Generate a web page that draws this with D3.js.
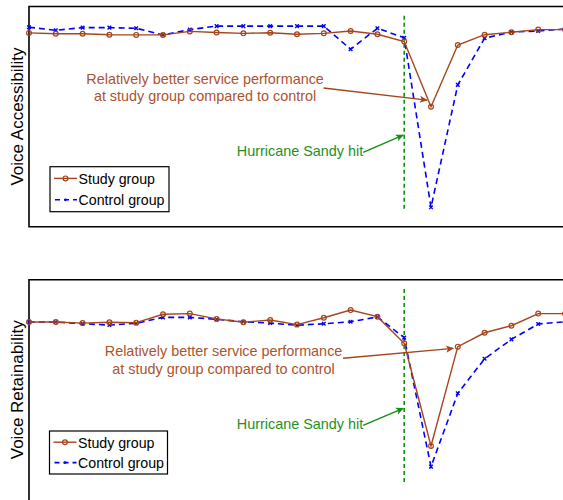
<!DOCTYPE html>
<html>
<head>
<meta charset="utf-8">
<script src="https://cdn.jsdelivr.net/npm/d3@7"></script>
<style>
  html, body { margin: 0; padding: 0; background: #fff; overflow: hidden; }
  svg { display: block; font-family: "Liberation Sans", Arial, Helvetica, sans-serif; }
</style>
</head>
<body>
<svg id="chart" width="563" height="500"></svg>
<script>
// ---------------- data ----------------
const days = [1,2,3,4,5,6,7,8,9,10,11,12,13,14,15,16,17,18,19,20,21];
const sandyDay = 15;

const accessStudy   = [88.0,87.6,87.6,87.2,87.1,87.1,88.7,88.2,87.8,88.1,87.4,87.8,88.9,87.4,84.1,54.5,82.5,87.2,88.3,89.5,89.5];
const accessControl = [90.6,89.2,90.4,90.4,90.1,87.1,89.5,91.1,91.1,91.1,91.1,91.1,80.6,90.1,85.8,8.8,64.4,85.6,88.4,88.9,89.8];

const retainStudy   = [80.8,80.8,80.3,80.7,80.5,84.3,84.6,82.2,80.7,81.7,79.6,82.7,86.2,83.2,71.1,24.5,69.6,75.9,79.1,84.6,84.6];
const retainControl = [80.8,80.8,80.0,79.4,80.2,82.9,82.9,82.0,80.9,80.3,79.3,80.0,80.9,83.1,73.7,15.1,48.4,64.1,72.9,79.9,80.9];

const yLabels = ["Voice Accessibility", "Voice Retainability"];
const seriesNames = ["Study group", "Control group"];
const noteLines = ["Relatively better service performance", "at study group compared to control"];
const sandyText = "Hurricane Sandy hit";

// ---------------- style ----------------
const C_STUDY = "#a4451b";
const C_STUDY_TXT = "#ac5330";
const C_CTRL = "#0000ff";
const C_GREEN = "#119011";
const C_GREEN_TXT = "#1f8f1f";
const FS = 14.4;

const svg = d3.select("#chart");
const defs = svg.append("defs");
function marker(id, color) {
  defs.append("marker").attr("id", id)
    .attr("viewBox", "0 0 10 10").attr("refX", 9).attr("refY", 5)
    .attr("markerWidth", 10).attr("markerHeight", 8)
    .attr("markerUnits", "userSpaceOnUse")
    .attr("orient", "auto")
    .append("path").attr("d", "M0,0.5 L10,5 L0,9.5 L2.5,5 Z").attr("fill", color);
}
marker("arrBrown", C_STUDY);
marker("arrGreen", C_GREEN);

const x = d3.scaleLinear().domain([1, 21]).range([29, 565]);

const panels = [
  { top: 6.5, h: 220.2, frameBottom: 226.7, study: accessStudy, ctrl: accessControl, label: yLabels[0],
    note: { cx: 7.57, y1: 64.7, y2: 57.1, from: [11.99, 63.0], to: [15.85, 57.5] },
    legend: { x: 50, y: 160.2, w: 119, h: 45 } },
  { top: 279.7, h: 220.2, frameBottom: 506, study: retainStudy, ctrl: retainControl, label: yLabels[1],
    note: { cx: 8.26, y1: 65.3, y2: 57.4, from: [12.72, 64.3], to: [16.83, 68.8] },
    legend: { x: 49.5, y: 151.3, w: 118, h: 43 } }
];

panels.forEach(p => {
  const y = d3.scaleLinear().domain([0, 100]).range([p.top + p.h, p.top]);
  const g = svg.append("g");

  // frame (right side is beyond the visible area)
  g.append("path")
    .attr("d", `M600,${p.top} H${x(1)} V${p.frameBottom} H600`)
    .attr("fill", "none").attr("stroke", "#000").attr("stroke-width", 1.6);

  // y label
  g.append("text")
    .attr("transform", `translate(23,${p.top + p.h / 2}) rotate(-90)`)
    .attr("text-anchor", "middle").attr("font-size", 17).attr("fill", "#000")
    .text(p.label);

  // Sandy line
  g.append("line")
    .attr("x1", x(sandyDay)).attr("x2", x(sandyDay))
    .attr("y1", y(95.8)).attr("y2", y(7.3))
    .attr("stroke", C_GREEN).attr("stroke-width", 1.6).attr("stroke-dasharray", "4,3");

  const line = d3.line().x((d, i) => x(days[i])).y(d => y(d));

  // control series
  g.append("path").datum(p.ctrl).attr("d", line)
    .attr("fill", "none").attr("stroke", C_CTRL).attr("stroke-width", 1.6)
    .attr("stroke-dasharray", "6,4");
  g.selectAll(".cm").data(p.ctrl).enter().append("path")
    .attr("d", (d, i) => { const cx = x(days[i]), cy = y(d), s = 1.8;
      return `M${cx - s},${cy - s}L${cx + s},${cy + s}M${cx - s},${cy + s}L${cx + s},${cy - s}`; })
    .attr("stroke", C_CTRL).attr("stroke-width", 1.4);

  // study series
  g.append("path").datum(p.study).attr("d", line)
    .attr("fill", "none").attr("stroke", C_STUDY).attr("stroke-width", 1.4);
  g.selectAll(".sm").data(p.study).enter().append("circle")
    .attr("cx", (d, i) => x(days[i])).attr("cy", d => y(d)).attr("r", 2.4)
    .attr("fill", "none").attr("stroke", C_STUDY).attr("stroke-width", 1.2);

  // brown annotation
  const n = p.note;
  g.append("text").attr("x", x(n.cx)).attr("y", y(n.y1))
    .attr("text-anchor", "middle").attr("font-size", FS).attr("fill", C_STUDY_TXT).text(noteLines[0]);
  g.append("text").attr("x", x(n.cx)).attr("y", y(n.y2))
    .attr("text-anchor", "middle").attr("font-size", FS).attr("fill", C_STUDY_TXT).text(noteLines[1]);
  g.append("line")
    .attr("x1", x(n.from[0])).attr("y1", y(n.from[1]))
    .attr("x2", x(n.to[0])).attr("y2", y(n.to[1]))
    .attr("stroke", C_STUDY).attr("stroke-width", 1.4).attr("marker-end", "url(#arrBrown)");

  // green annotation
  g.append("text").attr("x", x(13.47)).attr("y", y(32.2))
    .attr("text-anchor", "end").attr("font-size", FS).attr("fill", C_GREEN_TXT).text(sandyText);
  g.append("line")
    .attr("x1", x(13.47)).attr("y1", y(33.8))
    .attr("x2", x(14.96)).attr("y2", y(41.6))
    .attr("stroke", C_GREEN).attr("stroke-width", 1.4).attr("marker-end", "url(#arrGreen)");

  // legend
  const L = p.legend;
  const lg = g.append("g").attr("transform", `translate(${L.x},${p.top + L.y})`);
  lg.append("rect").attr("width", L.w).attr("height", L.h)
    .attr("fill", "#fff").attr("stroke", "#000").attr("stroke-width", 1.2);
  const r1 = L.h * 0.26, r2 = L.h * 0.735;
  lg.append("line").attr("x1", 4).attr("x2", 27).attr("y1", r1).attr("y2", r1)
    .attr("stroke", C_STUDY).attr("stroke-width", 1.4);
  lg.append("circle").attr("cx", 15.5).attr("cy", r1).attr("r", 2.4)
    .attr("fill", "none").attr("stroke", C_STUDY).attr("stroke-width", 1.2);
  lg.append("line").attr("x1", 4).attr("x2", 27).attr("y1", r2).attr("y2", r2)
    .attr("stroke", C_CTRL).attr("stroke-width", 1.6).attr("stroke-dasharray", "5,4").attr("stroke-dashoffset", -1);
  lg.append("circle").attr("cx", 15.5).attr("cy", r2).attr("r", 1.4).attr("fill", C_CTRL);
  lg.append("text").attr("x", 28.5).attr("y", r1 + 5.5).attr("font-size", 14.2).attr("fill", "#000").text(seriesNames[0]);
  lg.append("text").attr("x", 28.5).attr("y", r2 + 5.5).attr("font-size", 14.2).attr("fill", "#000").text(seriesNames[1]);
});
</script>
</body>
</html>
